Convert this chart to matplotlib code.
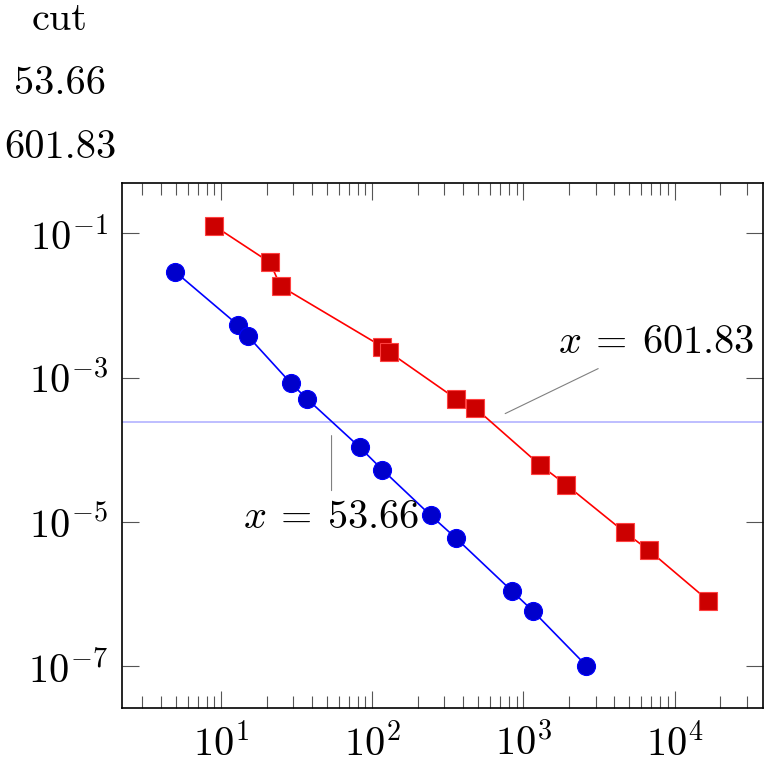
import matplotlib
matplotlib.use("Agg")
import matplotlib.pyplot as plt
from matplotlib.ticker import LogLocator, LogFormatterMathtext, NullLocator, NullFormatter
from matplotlib.transforms import ScaledTranslation

plt.rcParams['font.family'] = 'serif'
plt.rcParams['font.serif'] = ['cmr10']
plt.rcParams['mathtext.fontset'] = 'cm'
plt.rcParams['axes.formatter.use_mathtext'] = True

# data
blue_x = [4.94, 12.95, 14.96, 28.8, 37.0, 82.3, 116.4, 242.7, 359, 838, 1156, 2600]
blue_y = [0.0294, 0.00531, 0.00378, 8.43e-4, 5.06e-4, 1.09e-4, 5.31e-5, 1.24e-5,
          5.94e-6, 1.11e-6, 5.85e-7, 1.03e-7]
red_x = [9.0, 21.0, 24.7, 116, 128.6, 359, 479, 1279, 1923, 4667, 6776, 16750]
red_y = [0.126, 0.0393, 0.01845, 0.00269, 0.00227, 5.06e-4, 3.80e-4, 6.22e-5,
         3.26e-5, 7.26e-6, 4.05e-6, 8.13e-7]
cut_y = 2.46e-4
cut_x = [53.66, 601.83]
table_header = "cut"
x_ticks = [1e1, 1e2, 1e3, 1e4]
y_ticks = [1e-1, 1e-3, 1e-5, 1e-7]

DPI = 100
fig = plt.figure(figsize=(7.67, 7.64), dpi=DPI)
W, H = 767, 764
left, right, top, bottom = 122, 763, 183, 708
ax = fig.add_axes([left / W, 1 - bottom / H, (right - left) / W, (bottom - top) / H])

fs = 29
lw = 1.2

ax.plot(blue_x, blue_y, color='#0000ff', lw=lw, marker='o', markersize=13,
        markerfacecolor='#0000cc', markeredgecolor='#0000ff', markeredgewidth=0.8, zorder=3)
ax.plot(red_x, red_y, color='#ff0000', lw=lw, marker='s', markersize=13,
        markerfacecolor='#cc0000', markeredgecolor='#ff4040', markeredgewidth=0.8, zorder=3)
ax.axhline(cut_y, color='#b3b3ff', lw=lw, zorder=2)

ax.set_xscale('log')
ax.set_yscale('log')
ax.set_xlim(10 ** 0.343, 10 ** 4.585)
ax.set_ylim(10 ** -7.575, 10 ** -0.305)

ax.xaxis.set_major_locator(plt.FixedLocator(x_ticks))
ax.xaxis.set_major_formatter(LogFormatterMathtext())
ax.xaxis.set_minor_locator(LogLocator(base=10, subs=[2, 3, 4, 5, 6, 7, 8, 9], numticks=20))
ax.xaxis.set_minor_formatter(NullFormatter())
ax.yaxis.set_major_locator(plt.FixedLocator(y_ticks))
ax.yaxis.set_major_formatter(LogFormatterMathtext())
ax.yaxis.set_minor_locator(NullLocator())

ax.tick_params(which='both', direction='in', top=True, right=True, labelsize=fs,
               width=0.8, color='#555555')
ax.tick_params(which='major', length=12.5)
ax.tick_params(which='minor', length=8.5)
ax.tick_params(axis='x', pad=11)
ax.tick_params(axis='y', pad=10)
for s in ax.spines.values():
    s.set_linewidth(lw)

# pins
def off(dx, dy):
    return ax.transData + ScaledTranslation(dx / DPI, dy / DPI, fig.dpi_scale_trans)

pins = [
    # start offset, end offset, label offset (pixels, y up)
    ((0, -14), (0, -69), (0, -96)),
    ((15, 8), (108, 53), (166, 79)),
]
for xv, (s0, s1, lab) in zip(cut_x, pins):
    ax.annotate('', xy=(xv, cut_y), xycoords=off(*s0), xytext=(xv, cut_y),
                textcoords=off(*s1),
                arrowprops=dict(arrowstyle='-', color='gray', lw=0.8,
                                shrinkA=0, shrinkB=0))
    ax.text(xv, cut_y, f'$x\\:=\\:{xv:.2f}$', transform=off(*lab), fontsize=fs,
            ha='center', va='center', zorder=5)

# table above
fig.text(60 / W, 1 - 20 / H, table_header, fontsize=fs, ha='center', va='center')
for i, v in enumerate(cut_x):
    fig.text(60 / W, 1 - (84 + 64 * i) / H, f'{v:.2f}', fontsize=fs, ha='center', va='center')

fig.savefig('out.png', dpi=DPI)
